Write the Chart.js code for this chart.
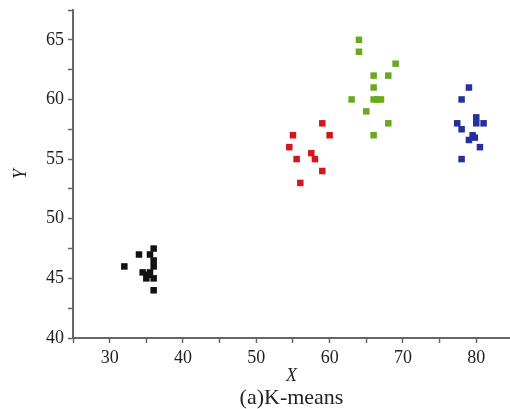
<!DOCTYPE html>
<html>
<head>
<meta charset="utf-8">
<script src="https://cdn.jsdelivr.net/npm/chart.js@4.4.1/dist/chart.umd.min.js"></script>
<style>
  html, body { margin: 0; padding: 0; background: #fff; }
  #wrap { width: 510px; height: 409px; }
</style>
</head>
<body>
<div id="wrap"><canvas id="km"></canvas></div>
<script>
// K-means clusters, one x/y pair of arrays per cluster
var c1X = [32, 34, 35.5, 36, 36, 36, 34.5, 35, 35.5, 36, 36, 35.2];
var c1Y = [46, 47, 47, 47.5, 46.5, 46, 45.5, 45, 45.5, 45, 44, 45.3];

var c2X = [59, 55, 60, 54.5, 55.5, 57.5, 58, 59, 56];
var c2Y = [58, 57, 57, 56, 55, 55.5, 55, 54, 53];

var c3X = [64, 64, 69, 66, 68, 66, 63, 66, 66.5, 67, 65, 68, 66];
var c3Y = [65, 64, 63, 62, 62, 61, 60, 60, 60, 60, 59, 58, 57];

var c4X = [79, 78, 77.4, 78, 80, 80, 81, 79.5, 79, 79.8, 80.5, 78];
var c4Y = [61, 60, 58, 57.5, 58.5, 58, 58, 57, 56.6, 56.8, 56, 55];

var xRange = [25, 84.6];
var yRange = [40, 67.5];

function pts(xs, ys) {
  return xs.map(function (x, i) { return { x: x, y: ys[i] }; });
}

function grupo(xs, ys, cor) {
  return {
    data: pts(xs, ys),
    pointStyle: "rect",
    pointRadius: 4.6,
    pointHoverRadius: 4.6,
    borderWidth: 0,
    backgroundColor: cor,
    borderColor: cor,
  };
}

var serif = "'Liberation Serif', 'Times New Roman', serif";
var TEXTO = "#222";
var EIXO = "#666";

new Chart(document.getElementById("km"), {
  type: "scatter",
  data: {
    datasets: [
      grupo(c1X, c1Y, "#111111"),
      grupo(c2X, c2Y, "#d4161f"),
      grupo(c3X, c3Y, "#6aa81e"),
      grupo(c4X, c4Y, "#27309a"),
    ],
  },
  options: {
    responsive: true,
    maintainAspectRatio: false,
    animation: false,
    layout: { autoPadding: false, padding: 0 },
    plugins: {
      legend: { display: false },
      tooltip: { enabled: false },
      title: {
        display: true,
        position: "bottom",
        fullSize: false,
        text: "(a)K-means",
        color: TEXTO,
        font: { family: serif, size: 22, weight: "normal", lineHeight: 1 },
        padding: { top: 0, bottom: 0 },
      },
    },
    scales: {
      x: {
        type: "linear",
        min: xRange[0],
        max: xRange[1],
        border: { color: EIXO, width: 2 },
        grid: { drawOnChartArea: false, tickLength: 5, tickColor: EIXO, tickWidth: 1.5 },
        ticks: {
          stepSize: 5,
          includeBounds: false,
          color: TEXTO,
          padding: 4,
          maxRotation: 0,
          autoSkip: false,
          font: { family: serif, size: 18 },
          callback: function (v) { return v % 10 === 0 && v > xRange[0] ? v : ""; },
        },
        title: {
          display: true,
          text: "X",
          color: TEXTO,
          font: { family: serif, size: 18, style: "italic" },
          padding: { top: 0, bottom: 0 },
        },
        afterFit: function (s) { s.height = 49; s.paddingLeft = 0; s.paddingRight = 0; },
      },
      y: {
        type: "linear",
        min: yRange[0],
        max: yRange[1],
        border: { color: EIXO, width: 2 },
        grid: { drawOnChartArea: false, tickLength: 5, tickColor: EIXO, tickWidth: 1.5 },
        ticks: {
          stepSize: 2.5,
          color: TEXTO,
          padding: 4,
          font: { family: serif, size: 18 },
          callback: function (v) { return v % 5 === 0 ? v : ""; },
        },
        title: {
          display: true,
          text: "Y",
          color: TEXTO,
          font: { family: serif, size: 18, style: "italic" },
          padding: { top: 10, bottom: 0 },
        },
        afterFit: function (s) { s.width = 73; s.paddingTop = 10; s.paddingBottom = 0; },
      },
    },
  },
});
</script>
</body>
</html>
